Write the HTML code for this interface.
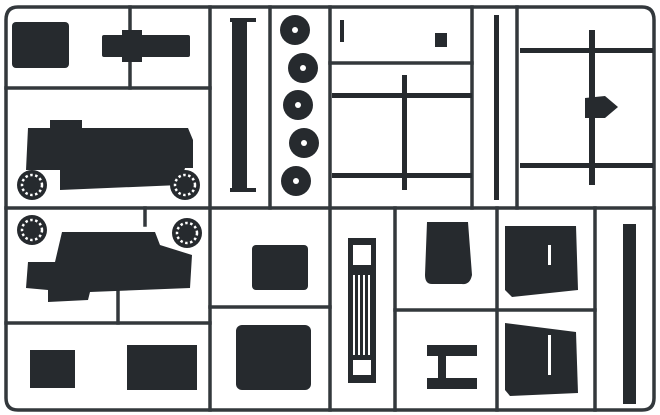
<!DOCTYPE html>
<html><head><meta charset="utf-8"><style>html,body{margin:0;padding:0;background:#fff}svg{display:block}</style></head><body>
<svg width="660" height="415" viewBox="0 0 660 415" xmlns="http://www.w3.org/2000/svg">
<rect width="660" height="415" fill="#fff"/>
<g stroke="#33383c" stroke-width="3.5" fill="none" stroke-linecap="square">
<path d="M6,395 V20 Q6,7 18,7 H642 Q654,7 654,20 V398 Q654,410 642,410 H18 Q6,410 6,398"/>
<line x1="210" y1="7" x2="210" y2="410"/>
<line x1="6" y1="88" x2="210" y2="88"/>
<line x1="130" y1="7" x2="130" y2="88"/>
<line x1="6" y1="208" x2="654" y2="208"/>
<line x1="270" y1="7" x2="270" y2="208"/>
<line x1="330" y1="7" x2="330" y2="410"/>
<line x1="472" y1="7" x2="472" y2="208"/>
<line x1="517" y1="7" x2="517" y2="208"/>
<line x1="330" y1="63" x2="472" y2="63"/>
<line x1="6" y1="323" x2="210" y2="323"/>
<line x1="210" y1="307" x2="330" y2="307"/>
<line x1="395" y1="208" x2="395" y2="410"/>
<line x1="497" y1="208" x2="497" y2="410"/>
<line x1="595" y1="208" x2="595" y2="410"/>
<line x1="395" y1="310" x2="595" y2="310"/>
<line x1="118" y1="290" x2="118" y2="323"/>
<line x1="145" y1="208" x2="145" y2="225"/>
</g>
<g fill="#262a2e">
<rect x="12" y="22" width="57" height="46" rx="4"/>
<rect x="102" y="35" width="88" height="22" rx="2"/>
<rect x="122" y="30" width="20" height="32"/>
<rect x="232" y="20" width="15" height="170"/>
<rect x="230" y="18" width="26" height="4"/><rect x="230" y="188" width="26" height="4"/>
<circle cx="295" cy="30" r="15"/><circle cx="303" cy="68" r="15"/><circle cx="298" cy="105" r="15"/><circle cx="304" cy="143" r="15"/><circle cx="296" cy="181" r="15"/>
<path d="M28,128 L50,128 L50,120 L82,120 L82,128 L188,128 L193,140 L193,168 L185,168 L180,185 L60,190 L60,170 L26,170 Z"/>
<path d="M28,262 L55,262 L62,232 L155,232 L160,245 L192,255 L190,288 L90,292 L88,300 L48,302 L48,290 L26,288 Z"/>
<circle cx="32" cy="185" r="15"/><circle cx="185" cy="185" r="15"/>
<circle cx="32" cy="230" r="15"/><circle cx="187" cy="233" r="15"/>
<rect x="30" y="350" width="45" height="38"/>
<rect x="127" y="345" width="70" height="45"/>
<rect x="252" y="245" width="56" height="45" rx="4"/>
<rect x="236" y="325" width="75" height="65" rx="6"/>
<rect x="348" y="238" width="28" height="145"/>
<path d="M427,222 H468 L472,275 Q470,285 462,284 L432,284 Q425,284 425,275 Z"/>
<path d="M505,226 H576 L578,290 L512,297 L505,290 Z"/>
<path d="M505,323 L576,332 L578,393 L510,396 L505,390 Z"/>
<rect x="623" y="224" width="13" height="180"/>
<rect x="427" y="345" width="50" height="11"/><rect x="427" y="378" width="50" height="11"/>
<rect x="438" y="356" width="8" height="22"/>
<rect x="332" y="93" width="140" height="5"/><rect x="332" y="173" width="140" height="5"/>
<rect x="402" y="75" width="5" height="115"/>
<rect x="494" y="15" width="5" height="185"/>
<rect x="520" y="48" width="133" height="5"/><rect x="520" y="163" width="133" height="5"/>
<rect x="589" y="30" width="6" height="155"/>
<path d="M585,98 L605,96 L618,107 L605,118 L585,118 Z"/>
<rect x="340" y="20" width="4" height="22"/><rect x="435" y="33" width="12" height="14"/>
</g>
<g fill="#fff">
<circle cx="295" cy="30" r="3"/><circle cx="303" cy="68" r="3"/><circle cx="298" cy="105" r="3"/><circle cx="304" cy="143" r="3"/><circle cx="296" cy="181" r="3"/>
<rect x="353" y="275" width="2" height="80"/><rect x="358" y="275" width="2" height="80"/><rect x="363" y="275" width="2" height="80"/><rect x="368" y="275" width="2" height="80"/>
<rect x="353" y="245" width="18" height="20"/><rect x="353" y="360" width="18" height="15"/>
<rect x="548" y="245" width="3" height="20"/><rect x="548" y="335" width="3" height="40"/>
</g>
<g fill="none" stroke="#fff" stroke-width="2.5" stroke-dasharray="2.5 2.5">
<circle cx="32" cy="185" r="10"/><circle cx="185" cy="185" r="10"/><circle cx="32" cy="230" r="10"/><circle cx="187" cy="233" r="10"/>
</g>
</svg>
</body></html>
